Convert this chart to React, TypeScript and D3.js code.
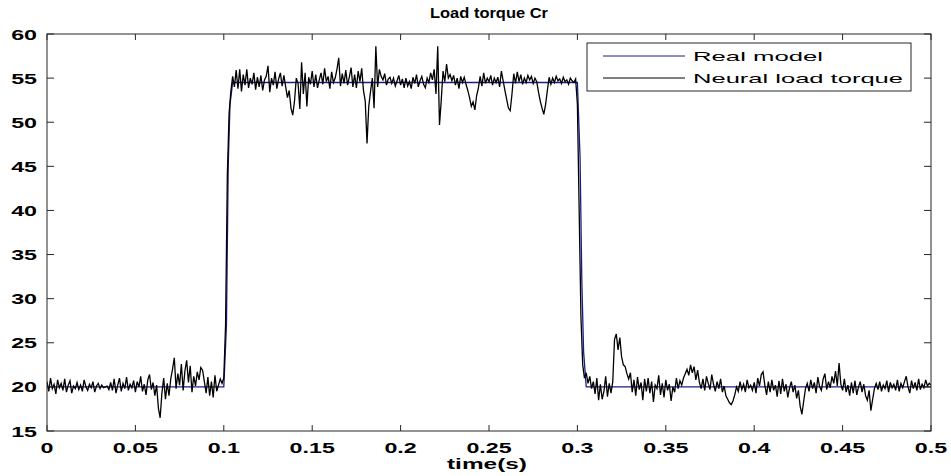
import React, { useRef, useEffect } from 'react';
import * as d3 from 'd3';

// axis ticks
const xTicks = [0, 0.05, 0.1, 0.15, 0.2, 0.25, 0.3, 0.35, 0.4, 0.45, 0.5];
const xTickLabels = ['0', '0.05', '0.1', '0.15', '0.2', '0.25', '0.3', '0.35', '0.4', '0.45', '0.5'];
const yTicks = [15, 20, 25, 30, 35, 40, 45, 50, 55, 60];

// real model (breakpoints)
const modelTime = [0, 0.1, 0.1015, 0.1025, 0.1035, 0.105, 0.3, 0.3015, 0.3025, 0.3035, 0.305, 0.5];
const modelValue = [20, 20, 27, 45, 52, 54.5, 54.5, 46, 32, 24, 20, 20];

// neural estimate, one value every 1 ms
const sampleStep = 0.001;
const neural = [
  20.6, 19.5, 21.0, 19.8, 20.3, 19.2, 20.8, 19.9, 20.4, 19.6,
  20.9, 19.4, 20.2, 20.7, 19.3, 20.1, 19.8, 20.5, 19.7, 20.2,
  19.5, 20.8, 20.0, 19.6, 20.3, 19.9, 20.6, 19.4, 20.1, 20.4,
  19.8, 20.2, 19.9, 20.0, 20.1, 19.7, 20.5, 19.6, 20.9, 19.3,
  20.2, 21.0, 19.5, 20.4, 19.8, 21.1, 19.6, 20.3, 19.9, 20.7,
  19.4, 20.6, 20.0, 21.2, 19.5, 20.3, 19.1, 20.8, 21.4, 19.7,
  20.5, 19.0, 20.2, 17.6, 16.5, 19.3, 21.0, 18.6, 20.4, 19.0,
  20.9, 22.0, 23.3, 19.8, 21.5, 20.2, 22.6, 19.6, 21.8, 23.0,
  20.5, 22.4, 19.4, 21.2, 20.1, 21.7, 20.8, 22.2, 21.9, 20.6,
  19.3, 21.1, 19.0, 20.6, 18.8, 21.3, 19.5, 20.2, 20.9, 20.4,
  21.0, 27.0, 44.0, 51.0, 53.5, 55.2, 54.0, 55.9, 53.8, 56.0,
  53.5, 55.4, 54.2, 56.0, 53.9, 55.0, 54.3, 55.6, 53.7, 55.1,
  54.0, 55.3, 53.6, 54.8, 55.2, 56.4, 53.4, 55.0, 54.2, 55.7,
  53.8, 54.9, 55.6, 54.1, 55.3, 54.0, 52.8, 53.6, 51.6, 50.8,
  52.4, 55.0, 54.4, 51.5, 56.8, 53.2, 55.6, 51.8, 55.1, 54.3,
  55.8, 54.0, 55.4, 53.9, 54.8, 55.6, 54.3, 56.1, 54.6, 55.2,
  53.8, 55.7, 54.5, 55.0, 56.0, 57.3, 54.1, 55.5, 54.4, 55.9,
  54.2, 55.1, 56.2, 54.0, 55.4, 53.9, 55.8, 54.6, 56.1, 53.6,
  52.4, 47.6, 51.8, 53.5, 55.0, 51.6, 58.6, 54.0, 56.0, 55.2,
  54.8, 55.5, 54.2, 54.9, 55.1, 54.4, 55.0, 54.1, 54.7, 55.3,
  54.2, 54.9, 53.9, 55.0, 54.1, 54.6, 53.8, 55.1, 54.4, 55.4,
  54.0, 54.7, 55.2, 54.3, 53.9, 55.0, 54.5, 55.6, 54.8, 56.0,
  53.2, 58.6, 49.7, 52.5, 55.8, 54.6, 56.6, 55.0, 55.4, 54.7,
  55.3, 54.2, 55.0, 53.8, 55.2, 54.5, 55.1, 54.3, 53.6, 52.8,
  51.8, 52.3, 51.4, 53.0, 53.9, 55.2, 54.1, 55.6, 54.4, 55.0,
  54.6, 55.3, 54.2, 55.0, 54.5, 55.1, 54.0, 55.8, 54.7, 53.6,
  52.6, 51.6, 51.3, 53.2, 55.5, 54.4, 55.7, 54.6, 55.4, 54.3,
  55.0, 54.5, 55.3, 54.8, 55.2, 54.4, 55.0, 54.6, 53.4, 52.4,
  51.6, 50.9, 52.0, 53.6, 55.1, 54.3, 55.0, 54.5, 55.2, 54.7,
  54.9, 54.4, 55.1, 54.6, 54.8, 54.3, 55.0, 54.7, 54.5, 54.9,
  52.0, 40.0, 28.0, 22.5, 21.0, 21.6, 20.4, 21.2, 19.8, 20.6,
  19.2, 21.0, 18.5, 20.3, 18.6, 19.5, 21.2, 18.9, 20.4, 19.3,
  20.6, 25.4, 26.0, 24.2, 25.6, 23.4, 22.5, 22.3, 21.5, 20.9,
  21.6, 19.4, 20.8, 19.0, 21.1, 19.7, 20.5, 18.5, 20.9, 19.5,
  21.0, 19.3, 20.6, 18.3, 20.2, 19.8, 21.3, 19.1, 20.4, 18.8,
  20.8, 19.6, 20.3, 18.4, 20.0, 19.4, 21.0, 19.8, 20.7, 20.2,
  21.0, 21.5, 22.0, 21.3, 22.5, 21.6, 22.3, 20.8, 21.9, 20.5,
  19.8, 20.9, 19.6, 21.2, 20.4, 19.7, 21.4, 20.3, 19.5, 20.6,
  19.8, 20.9, 19.4, 20.1, 19.0, 18.6, 18.2, 18.0, 18.4, 19.1,
  20.0, 19.5, 20.6, 19.7, 20.3, 19.4, 20.8, 19.9, 20.2, 19.6,
  20.5, 19.3, 21.0, 20.1, 21.4, 21.7, 20.2, 19.1, 20.6, 19.4,
  20.8, 19.6, 20.2, 18.9, 20.7, 19.2, 20.9, 19.5, 20.3, 18.8,
  19.9, 20.6, 19.4, 20.2, 18.7, 19.6, 17.8, 16.9, 18.4, 19.8,
  20.4, 19.5, 20.8, 19.8, 20.5, 19.3, 21.1, 20.0, 19.6, 20.9,
  21.5, 19.7, 20.6, 19.9, 21.2, 20.4, 21.8, 20.1, 22.7, 20.3,
  19.6, 20.9, 19.4, 20.2, 19.0, 20.5, 19.3, 20.7, 19.1, 20.0,
  20.6, 19.4, 20.3, 19.0, 18.5, 19.6, 17.3, 18.6, 19.8, 20.4,
  19.7, 20.6, 19.5, 20.2, 19.8, 20.7, 19.4, 20.5, 19.9, 20.3,
  19.6, 20.8, 19.5, 20.4, 19.9, 20.6, 21.2, 20.0, 19.3, 20.7,
  19.8, 20.5, 19.6, 20.9, 19.7, 20.3, 19.9, 20.8, 20.1, 20.4,
  20.2,
];

const legendLabels = ['Real model', 'Neural load torque'];
const legendColors = ['#1c1c86', '#000000'];

function App() {
  const svgRef = useRef<SVGSVGElement>(null);

  useEffect(() => {
    const svg = d3.select(svgRef.current);
    svg.selectAll('*').remove();

    const left = 47, right = 931, top = 34, bottom = 431;
    const font = '"Liberation Sans", Arial, sans-serif';
    const axisColor = '#262626';

    const xScale = d3.scaleLinear().domain([0, 0.5]).range([left, right]);
    const yScale = d3.scaleLinear().domain([15, 60]).range([bottom, top]);

    svg.append('rect')
      .attr('width', 951).attr('height', 476).attr('fill', '#fff');

    // clip to plot area
    svg.append('clipPath').attr('id', 'plot-clip')
      .append('rect')
      .attr('x', left).attr('y', top)
      .attr('width', right - left).attr('height', bottom - top);

    const plot = svg.append('g').attr('clip-path', 'url(#plot-clip)');

    // real model
    const modelLine = d3.line<number>()
      .x((d, i) => xScale(modelTime[i]))
      .y(d => yScale(d));

    plot.append('path')
      .datum(modelValue)
      .attr('d', modelLine)
      .attr('fill', 'none')
      .attr('stroke', legendColors[0])
      .attr('stroke-width', 1.3);

    // neural estimate
    const neuralLine = d3.line<number>()
      .x((d, i) => xScale(i * sampleStep))
      .y(d => yScale(d));

    plot.append('path')
      .datum(neural)
      .attr('d', neuralLine)
      .attr('fill', 'none')
      .attr('stroke', legendColors[1])
      .attr('stroke-width', 1.3)
      .attr('stroke-linejoin', 'miter');

    // axes box
    svg.append('rect')
      .attr('x', left).attr('y', top)
      .attr('width', right - left).attr('height', bottom - top)
      .attr('fill', 'none')
      .attr('stroke', axisColor)
      .attr('stroke-width', 1);

    // x ticks (bottom + top, pointing in)
    svg.selectAll('.xtick-b').data(xTicks).join('line')
      .attr('x1', d => xScale(d)).attr('x2', d => xScale(d))
      .attr('y1', bottom).attr('y2', bottom - 6)
      .attr('stroke', axisColor);
    svg.selectAll('.xtick-t').data(xTicks).join('line')
      .attr('x1', d => xScale(d)).attr('x2', d => xScale(d))
      .attr('y1', top).attr('y2', top + 6)
      .attr('stroke', axisColor);

    // y ticks (left + right, pointing in)
    svg.selectAll('.ytick-l').data(yTicks).join('line')
      .attr('x1', left).attr('x2', left + 7)
      .attr('y1', d => yScale(d)).attr('y2', d => yScale(d))
      .attr('stroke', axisColor);
    svg.selectAll('.ytick-r').data(yTicks).join('line')
      .attr('x1', right).attr('x2', right - 7)
      .attr('y1', d => yScale(d)).attr('y2', d => yScale(d))
      .attr('stroke', axisColor);

    // tick labels (stretched like the original figure)
    svg.selectAll('.xlabel').data(xTicks).join('text')
      .attr('transform', d => `translate(${xScale(d)},453) scale(1.55,1)`)
      .attr('text-anchor', 'middle')
      .attr('font-family', font)
      .attr('font-weight', 'bold')
      .attr('font-size', 15)
      .attr('fill', '#000')
      .text((d, i) => xTickLabels[i]);

    svg.selectAll('.ylabel').data(yTicks).join('text')
      .attr('transform', d => `translate(37,${yScale(d) + 5.5}) scale(1.55,1)`)
      .attr('text-anchor', 'end')
      .attr('font-family', font)
      .attr('font-weight', 'bold')
      .attr('font-size', 15)
      .attr('fill', '#000')
      .text(d => String(d));

    // title
    svg.append('text')
      .attr('x', 489).attr('y', 18)
      .attr('text-anchor', 'middle')
      .attr('font-family', font)
      .attr('font-weight', 'bold')
      .attr('font-size', 14)
      .attr('textLength', 118)
      .attr('lengthAdjust', 'spacingAndGlyphs')
      .text('Load torque Cr');

    // x axis label
    svg.append('text')
      .attr('x', 487).attr('y', 469)
      .attr('text-anchor', 'middle')
      .attr('font-family', font)
      .attr('font-weight', 'bold')
      .attr('font-size', 15)
      .attr('textLength', 80)
      .attr('lengthAdjust', 'spacingAndGlyphs')
      .text('time(s)');

    // legend
    const legend = svg.append('g');
    legend.append('rect')
      .attr('x', 587).attr('y', 43)
      .attr('width', 324).attr('height', 48)
      .attr('fill', '#fff')
      .attr('stroke', axisColor);

    const legendWidths = [130, 210];
    legendLabels.forEach((label, i) => {
      const ly = 56 + i * 22;
      legend.append('line')
        .attr('x1', 603).attr('x2', 685)
        .attr('y1', ly).attr('y2', ly)
        .attr('stroke', legendColors[i])
        .attr('stroke-width', 1);
      legend.append('text')
        .attr('x', 693).attr('y', ly + 5)
        .attr('font-family', font)
        .attr('font-size', 13.5)
        .attr('textLength', legendWidths[i])
        .attr('lengthAdjust', 'spacingAndGlyphs')
        .text(label);
    });
  }, []);

  return (
    <svg
      ref={svgRef}
      width={951}
      height={476}
      style={{ position: 'absolute', left: 0, top: 0 }}
    />
  );
}

export default App;
